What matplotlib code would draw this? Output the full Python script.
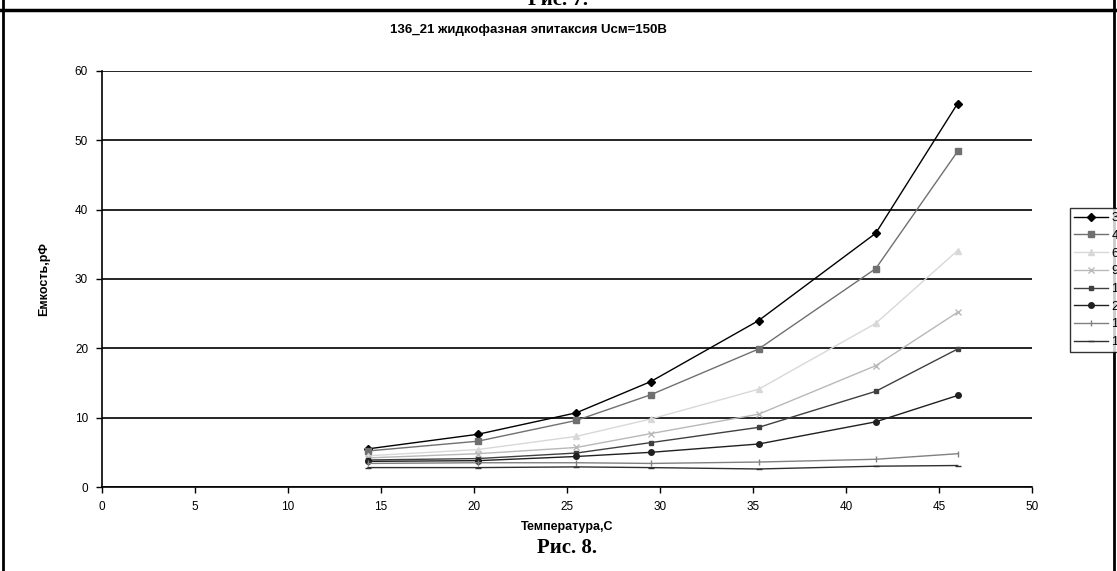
import matplotlib.pyplot as plt
from matplotlib.lines import Line2D

# temperature, C
temp = [14.3, 20.2, 25.5, 29.5, 35.3, 41.6, 46.0]

# capacitance, pF for each frequency series
s_30 = [5.5, 7.6, 10.7, 15.2, 24.0, 36.6, 55.3]
s_40 = [5.2, 6.6, 9.6, 13.3, 19.9, 31.5, 48.4]
s_60 = [4.5, 5.4, 7.3, 9.8, 14.1, 23.6, 34.1]
s_90 = [4.2, 4.8, 5.7, 7.7, 10.5, 17.5, 25.2]
s_120 = [3.9, 4.1, 4.9, 6.4, 8.6, 13.8, 19.9]
s_200 = [3.7, 3.8, 4.4, 5.0, 6.2, 9.4, 13.2]
s_1k = [3.4, 3.5, 3.5, 3.4, 3.6, 4.0, 4.8]
s_10k = [2.8, 2.8, 2.9, 2.8, 2.6, 3.0, 3.1]

labels = ['30 Гц', '40 Гц', '60 Гц', '90 Гц', '120 Гц', '200 Гц', '1 кГц', '10 кГц']
series = [s_30, s_40, s_60, s_90, s_120, s_200, s_1k, s_10k]

styles = [
    dict(color='black', marker='D', markersize=4),
    dict(color='#707070', marker='s', markersize=4),
    dict(color='#d8d8d8', marker='^', markersize=5),
    dict(color='#b8b8b8', marker='x', markersize=4),
    dict(color='#404040', marker='s', markersize=3),
    dict(color='#202020', marker='o', markersize=4),
    dict(color='#808080', marker='|', markersize=5),
    dict(color='#303030', marker='_', markersize=5),
]

plt.rcParams['font.family'] = ['Liberation Sans', 'DejaVu Sans']

fig = plt.figure(figsize=(11.17, 5.71), dpi=100)
ax = fig.add_axes([0.0913, 0.1471, 0.9239 - 0.0913, 0.8757 - 0.1471])

for vals, lab, st in zip(series, labels, styles):
    ax.plot(temp, vals, label=lab, linewidth=1.0, markeredgewidth=1.0, **st)

ax.set_xlim(0, 50)
ax.set_ylim(0, 60)
ax.set_xticks(range(0, 51, 5))
ax.set_yticks(range(0, 61, 10))
ax.yaxis.grid(True, color='black', linewidth=1.2)
ax.set_axisbelow(True)
for side in ['top', 'right']:
    ax.spines[side].set_visible(False)
ax.spines['left'].set_linewidth(1.2)
ax.spines['bottom'].set_linewidth(1.2)
ax.tick_params(direction='out', length=4, width=1, labelsize=8.5, pad=6)

ax.set_xlabel('Температура,С', fontsize=9, fontweight='bold', labelpad=6)
ax.set_ylabel('Емкость,рФ', fontsize=9, fontweight='bold', labelpad=18)

fig.text(0.473, 0.947, '136_21 жидкофазная эпитаксия Uсм=150В', ha='center', va='center',
         fontsize=9.5, fontweight='bold')

leg = fig.legend(loc='upper left', bbox_to_anchor=(1064 / 1117, 1 - 202 / 571),
                 fontsize=9, handlelength=2.7, labelspacing=0.46, borderpad=0.3,
                 handletextpad=0.3, frameon=True, fancybox=False, edgecolor='black')
leg.get_frame().set_linewidth(1.0)

# page frame around the figure
fig.add_artist(Line2D([0, 1], [1 - 10 / 571] * 2, transform=fig.transFigure, color='black', linewidth=2.5))
fig.add_artist(Line2D([3 / 1117] * 2, [0, 1], transform=fig.transFigure, color='black', linewidth=2))
fig.add_artist(Line2D([1114 / 1117] * 2, [0, 1], transform=fig.transFigure, color='black', linewidth=2))

fig.text(0.5, 1.0, 'Рис. 7.', ha='center', va='center', fontsize=15, fontweight='bold',
         family='Liberation Serif')
fig.text(0.508, 1 - 548 / 571, 'Рис. 8.', ha='center', va='center', fontsize=15, fontweight='bold',
         family='Liberation Serif')

fig.savefig('out.png', dpi=100)
